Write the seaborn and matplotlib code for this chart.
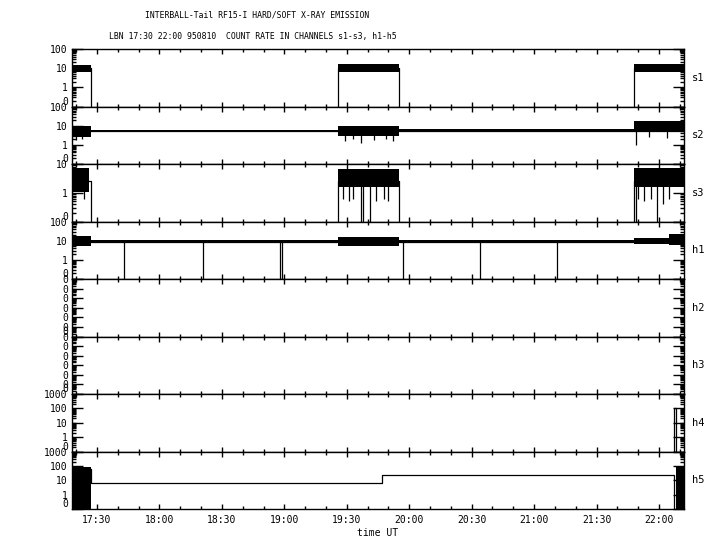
import matplotlib
matplotlib.use("Agg")
import matplotlib.pyplot as plt
from matplotlib.ticker import MultipleLocator, FuncFormatter, NullFormatter, FixedLocator
import seaborn as sns

# time axis (UT)
time_range = ["17:18", "22:12"]

channels = ["s1", "s2", "s3", "h1", "h2", "h3", "h4", "h5"]

# count-rate steps per channel, 0 = no counts
s1_times = ["17:18", "17:27", "19:26", "19:55", "21:48", "22:12"]
s1_rates = [10, 0, 10, 0, 10, 10]
s2_times = ["17:18", "22:12"]
s2_rates = [5.5, 5.5]
s3_times = ["17:18", "17:27", "19:26", "19:55", "21:48", "22:12"]
s3_rates = [2.5, 0, 2.5, 0, 2.5, 2.5]
h1_times = ["17:18", "22:12"]
h1_rates = [9, 9]
h2_times = ["17:18", "22:12"]
h2_rates = [0, 0]
h3_times = ["17:18", "22:12"]
h3_rates = [0, 0]
h4_times = ["17:18", "22:07", "22:08", "22:12"]
h4_rates = [0, 100, 0, 0]
h5_times = ["17:18", "17:27", "19:47", "22:07", "22:12"]
h5_rates = [60, 7, 22, 0, 0]

# noisy intervals: start, end, low, high
s1_noise = [("17:18", "17:27", 6, 15), ("19:26", "19:55", 6, 16), ("21:48", "22:12", 6, 17)]
s2_noise = [("17:18", "17:27", 2.5, 10), ("17:27", "19:26", 4.8, 6.3), ("19:26", "19:55", 2.8, 10),
            ("19:55", "21:48", 4.8, 6.5), ("21:48", "22:12", 5, 18)]
s3_noise = [("17:18", "17:26", 1.1, 7), ("19:26", "19:55", 1.6, 6.5), ("21:48", "22:12", 1.6, 7)]
h1_noise = [("17:18", "17:27", 5.5, 18), ("17:27", "19:26", 7.8, 10.5), ("19:26", "19:55", 5.5, 16),
            ("19:55", "21:48", 7.8, 11), ("21:48", "22:05", 6.5, 14), ("22:05", "22:12", 6, 22)]
h5_noise = [("17:18", "17:27", 0, 80), ("22:08", "22:12", 0, 90)]

# single spikes: time, level reached
s2_spike_times = ["17:20", "17:23", "19:29", "19:33", "19:37", "19:43", "19:49", "19:52", "21:49", "21:55", "22:04"]
s2_spike_rates = [1.8, 2.0, 1.5, 2.0, 1.3, 1.8, 2.0, 1.6, 1.0, 2.5, 2.2]
s3_spike_times = ["17:24", "19:28", "19:31", "19:33", "19:37", "19:38", "19:41", "19:44", "19:48", "19:50",
                  "21:49", "21:50", "21:53", "21:56", "21:59", "22:02", "22:05"]
s3_spike_rates = [0.6, 0.6, 0.5, 0.6, 0, 0, 0, 0.5, 0.6, 0.5, 0, 0.6, 0.5, 0.6, 0, 0.4, 0.6]
h1_spike_times = ["17:43", "18:21", "18:58", "18:59", "19:57", "20:34", "21:11"]
h1_spike_rates = [0, 0, 0, 0, 0, 0, 0]

steps = {"s1": (s1_times, s1_rates), "s2": (s2_times, s2_rates), "s3": (s3_times, s3_rates),
         "h1": (h1_times, h1_rates), "h2": (h2_times, h2_rates), "h3": (h3_times, h3_rates),
         "h4": (h4_times, h4_rates), "h5": (h5_times, h5_rates)}
noise = {"s1": s1_noise, "s2": s2_noise, "s3": s3_noise, "h1": h1_noise, "h5": h5_noise}
spikes = {"s2": (s2_spike_times, s2_spike_rates), "s3": (s3_spike_times, s3_spike_rates),
          "h1": (h1_spike_times, h1_spike_rates)}
spike_base = {"s2": 5.5, "s3": 2.0, "h1": 9}

# y range of each panel in decades
y_decades = {"s1": (-1, 2), "s2": (-1, 2), "s3": (-1, 1), "h1": (-1, 2),
             "h2": (-6, 0), "h3": (-6, 0), "h4": (-1, 3), "h5": (-1, 3)}


def hours(stamp):
    hh, mm = stamp.split(":")
    return int(hh) + float(mm) / 60.0


def hhmm(x, pos=None):
    m = int(round(x * 60))
    return f"{m // 60}:{m % 60:02d}"


sns.set_style("ticks")
plt.rcParams["font.family"] = ["DejaVu Sans Mono"]
plt.rcParams.update({"axes.linewidth": 1.0, "axes.edgecolor": "black", "xtick.color": "black",
                     "ytick.color": "black", "text.color": "black"})

fig, axes = plt.subplots(nrows=8, sharex=True, figsize=(7.2, 5.5), dpi=100)
fig.subplots_adjust(left=0.1, right=0.95, top=0.9109, bottom=0.0745, hspace=0)

for ax, ch in zip(axes, channels):
    t, v = steps[ch]
    sns.lineplot(x=[hours(s) for s in t], y=v, ax=ax, color="black", lw=0.9,
                 drawstyle="steps-post", estimator=None, sort=False, legend=False)
    for t0, t1, lo, hi in noise.get(ch, []):
        ax.fill_between([hours(t0), hours(t1)], [lo, lo], [hi, hi], color="black", lw=0)
    if ch in spikes:
        st, sv = spikes[ch]
        ax.vlines([hours(s) for s in st], spike_base[ch], sv, color="black", lw=0.9)

    lo_dec, hi_dec = y_decades[ch]
    ax.set_ylim(10.0 ** lo_dec, 10.0 ** hi_dec)
    ax.set_yscale("log")
    ax.set_ylim(10.0 ** lo_dec, 10.0 ** hi_dec)
    decades = list(range(lo_dec, hi_dec + 1))
    ax.yaxis.set_major_locator(FixedLocator([10.0 ** d for d in decades]))
    ax.yaxis.set_minor_locator(FixedLocator([k * 10.0 ** d for d in decades[:-1] for k in range(2, 10)]))
    if lo_dec == -1:
        labels = ["0"] + [str(10 ** d) for d in decades[1:]]
    else:
        labels = ["0"] * len(decades)
    ax.set_yticklabels(labels)
    ax.yaxis.set_minor_formatter(NullFormatter())
    ax.get_yticklabels()[0].set_va("bottom")

    ax.tick_params(axis="y", which="both", left=True, right=True, direction="in",
                   width=1.0, labelsize=7, pad=3)
    ax.tick_params(axis="y", which="major", length=8)
    ax.tick_params(axis="y", which="minor", length=3.2)
    ax.tick_params(axis="x", which="both", top=True, bottom=True, direction="in", width=1.0)
    ax.tick_params(axis="x", which="major", length=3.8, labelsize=7, pad=4)
    ax.tick_params(axis="x", which="minor", length=2.2)
    ax.set_ylabel("")
    ax.text(1.013, 0.5, ch, transform=ax.transAxes, ha="left", va="center", fontsize=7.5)

axes[-1].set_xlim(hours(time_range[0]), hours(time_range[1]))
axes[-1].xaxis.set_major_locator(MultipleLocator(0.5))
axes[-1].xaxis.set_minor_locator(MultipleLocator(1 / 6))
axes[-1].xaxis.set_major_formatter(FuncFormatter(hhmm))

fig.text(257 / 720, 1 - 15 / 550, "INTERBALL-Tail RF15-I HARD/SOFT X-RAY EMISSION",
         ha="center", va="center", fontsize=5.9)
fig.text(253 / 720, 1 - 36 / 550, "LBN 17:30 22:00 950810  COUNT RATE IN CHANNELS s1-s3, h1-h5",
         ha="center", va="center", fontsize=5.9)
fig.text(378 / 720, 1 - 533 / 550, "time UT", ha="center", va="center", fontsize=7)

plt.savefig("out.png", dpi=100)
